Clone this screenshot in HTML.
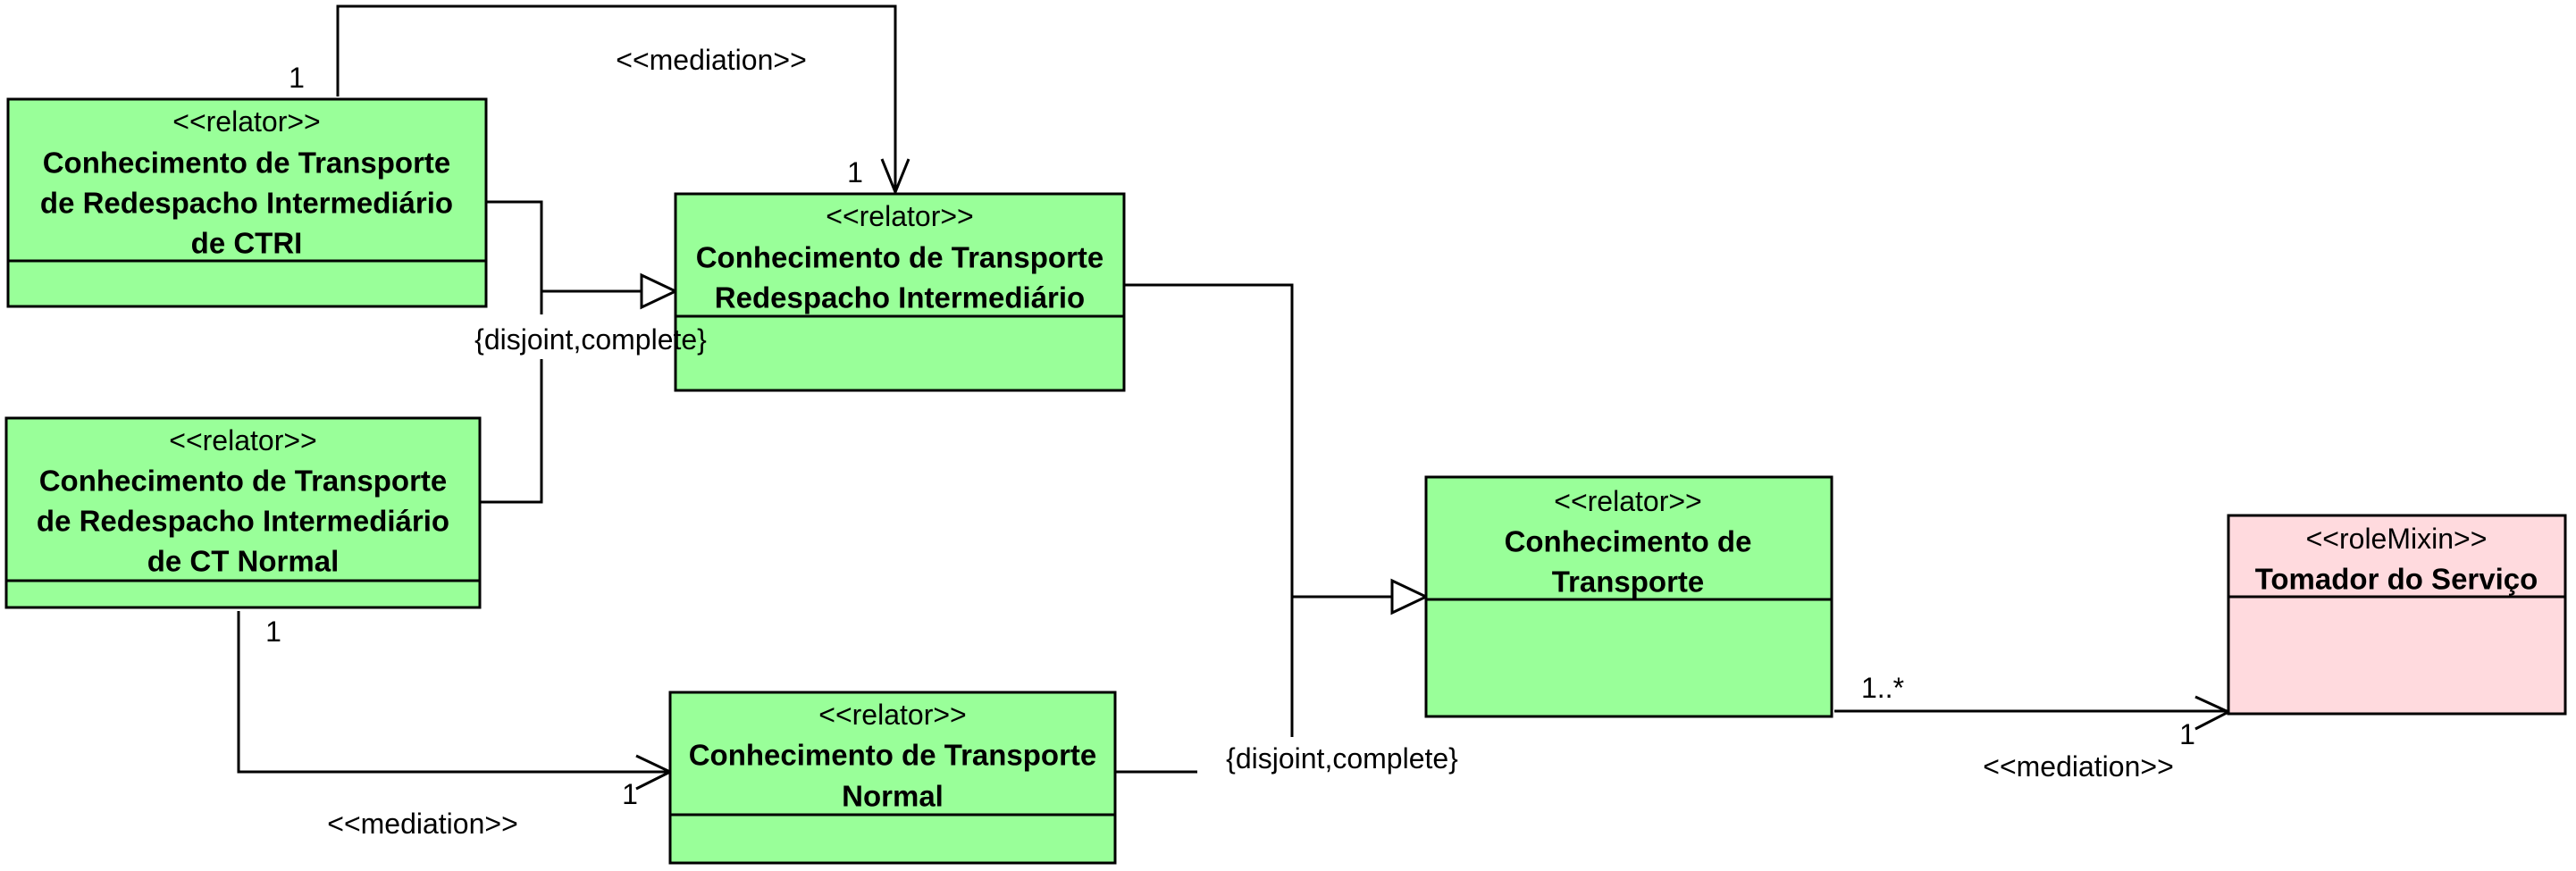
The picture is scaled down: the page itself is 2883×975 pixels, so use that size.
<!DOCTYPE html>
<html><head><meta charset="utf-8"><style>
html,body{margin:0;padding:0;background:#fff;}
svg{display:block;}
text{font-family:"Liberation Sans",Arial,sans-serif;font-size:32px;fill:#000;}
.b{font-weight:bold;font-size:33px;}
</style></head><body>
<svg width="2883" height="975" viewBox="0 0 2883 975" xmlns="http://www.w3.org/2000/svg">
<g stroke="#000" stroke-width="3" fill="none">
<!-- mediation top -->
<polyline points="378,108 378,7 1002,7 1002,215"/>
<polyline points="987,178 1002,215 1017,178"/>
<!-- generalization 1 -->
<polyline points="544,226 606,226 606,352"/>
<polyline points="606,402 606,562 537,562"/>
<line x1="606" y1="326" x2="718" y2="326"/>
<polygon points="718,308 756,326 718,344" fill="#fff"/>
<!-- generalization 2 -->
<polyline points="1258,319 1446,319 1446,825"/>
<line x1="1446" y1="668" x2="1558" y2="668"/>
<polygon points="1558,650 1596,668 1558,686" fill="#fff"/>
<line x1="1248" y1="864" x2="1340" y2="864"/>
<!-- mediation C->D -->
<polyline points="267,684 267,864 750,864"/>
<polyline points="712,846 750,864 712,883"/>
<!-- mediation E->F -->
<line x1="2053" y1="796" x2="2494" y2="796"/>
<polyline points="2457,780 2494,797 2457,816"/>
</g>
<!-- boxes -->
<g stroke="#000" stroke-width="3">
<rect x="9" y="111" width="535" height="232" fill="#99ff99"/>
<line x1="9" y1="292" x2="544" y2="292"/>
<rect x="756" y="217" width="502" height="220" fill="#99ff99"/>
<line x1="756" y1="354" x2="1258" y2="354"/>
<rect x="7" y="468" width="530" height="212" fill="#99ff99"/>
<line x1="7" y1="650" x2="537" y2="650"/>
<rect x="750" y="775" width="498" height="191" fill="#99ff99"/>
<line x1="750" y1="912" x2="1248" y2="912"/>
<rect x="1596" y="534" width="454" height="268" fill="#99ff99"/>
<line x1="1596" y1="671" x2="2050" y2="671"/>
<rect x="2494" y="577" width="377" height="222" fill="#ffdade"/>
<line x1="2494" y1="668" x2="2871" y2="668"/>
</g>
<g text-anchor="middle" dominant-baseline="central">
<text x="276" y="136">&lt;&lt;relator&gt;&gt;</text>
<text class="b" x="276" y="182">Conhecimento de Transporte</text>
<text class="b" x="276" y="227">de Redespacho Intermediário</text>
<text class="b" x="276" y="272">de CTRI</text>

<text x="1007" y="242">&lt;&lt;relator&gt;&gt;</text>
<text class="b" x="1007" y="288">Conhecimento de Transporte</text>
<text class="b" x="1007" y="333">Redespacho Intermediário</text>

<text x="272" y="493">&lt;&lt;relator&gt;&gt;</text>
<text class="b" x="272" y="538">Conhecimento de Transporte</text>
<text class="b" x="272" y="583">de Redespacho Intermediário</text>
<text class="b" x="272" y="628">de CT Normal</text>

<text x="999" y="800">&lt;&lt;relator&gt;&gt;</text>
<text class="b" x="999" y="845">Conhecimento de Transporte</text>
<text class="b" x="999" y="891">Normal</text>

<text x="1822" y="561">&lt;&lt;relator&gt;&gt;</text>
<text class="b" x="1822" y="606">Conhecimento de</text>
<text class="b" x="1822" y="651">Transporte</text>

<text x="2682" y="603">&lt;&lt;roleMixin&gt;&gt;</text>
<text class="b" x="2682" y="648">Tomador do Serviço</text>

<text x="796" y="67">&lt;&lt;mediation&gt;&gt;</text>
<text x="661" y="380">{disjoint,complete}</text>
<text x="1502" y="849">{disjoint,complete}</text>
<text x="473" y="922">&lt;&lt;mediation&gt;&gt;</text>
<text x="2326" y="858">&lt;&lt;mediation&gt;&gt;</text>
<text x="332" y="87">1</text>
<text x="957" y="193">1</text>
<text x="306" y="707">1</text>
<text x="705" y="889">1</text>
<text x="2107" y="770">1..*</text>
<text x="2448" y="822">1</text>
</g>
</svg>
</body></html>
